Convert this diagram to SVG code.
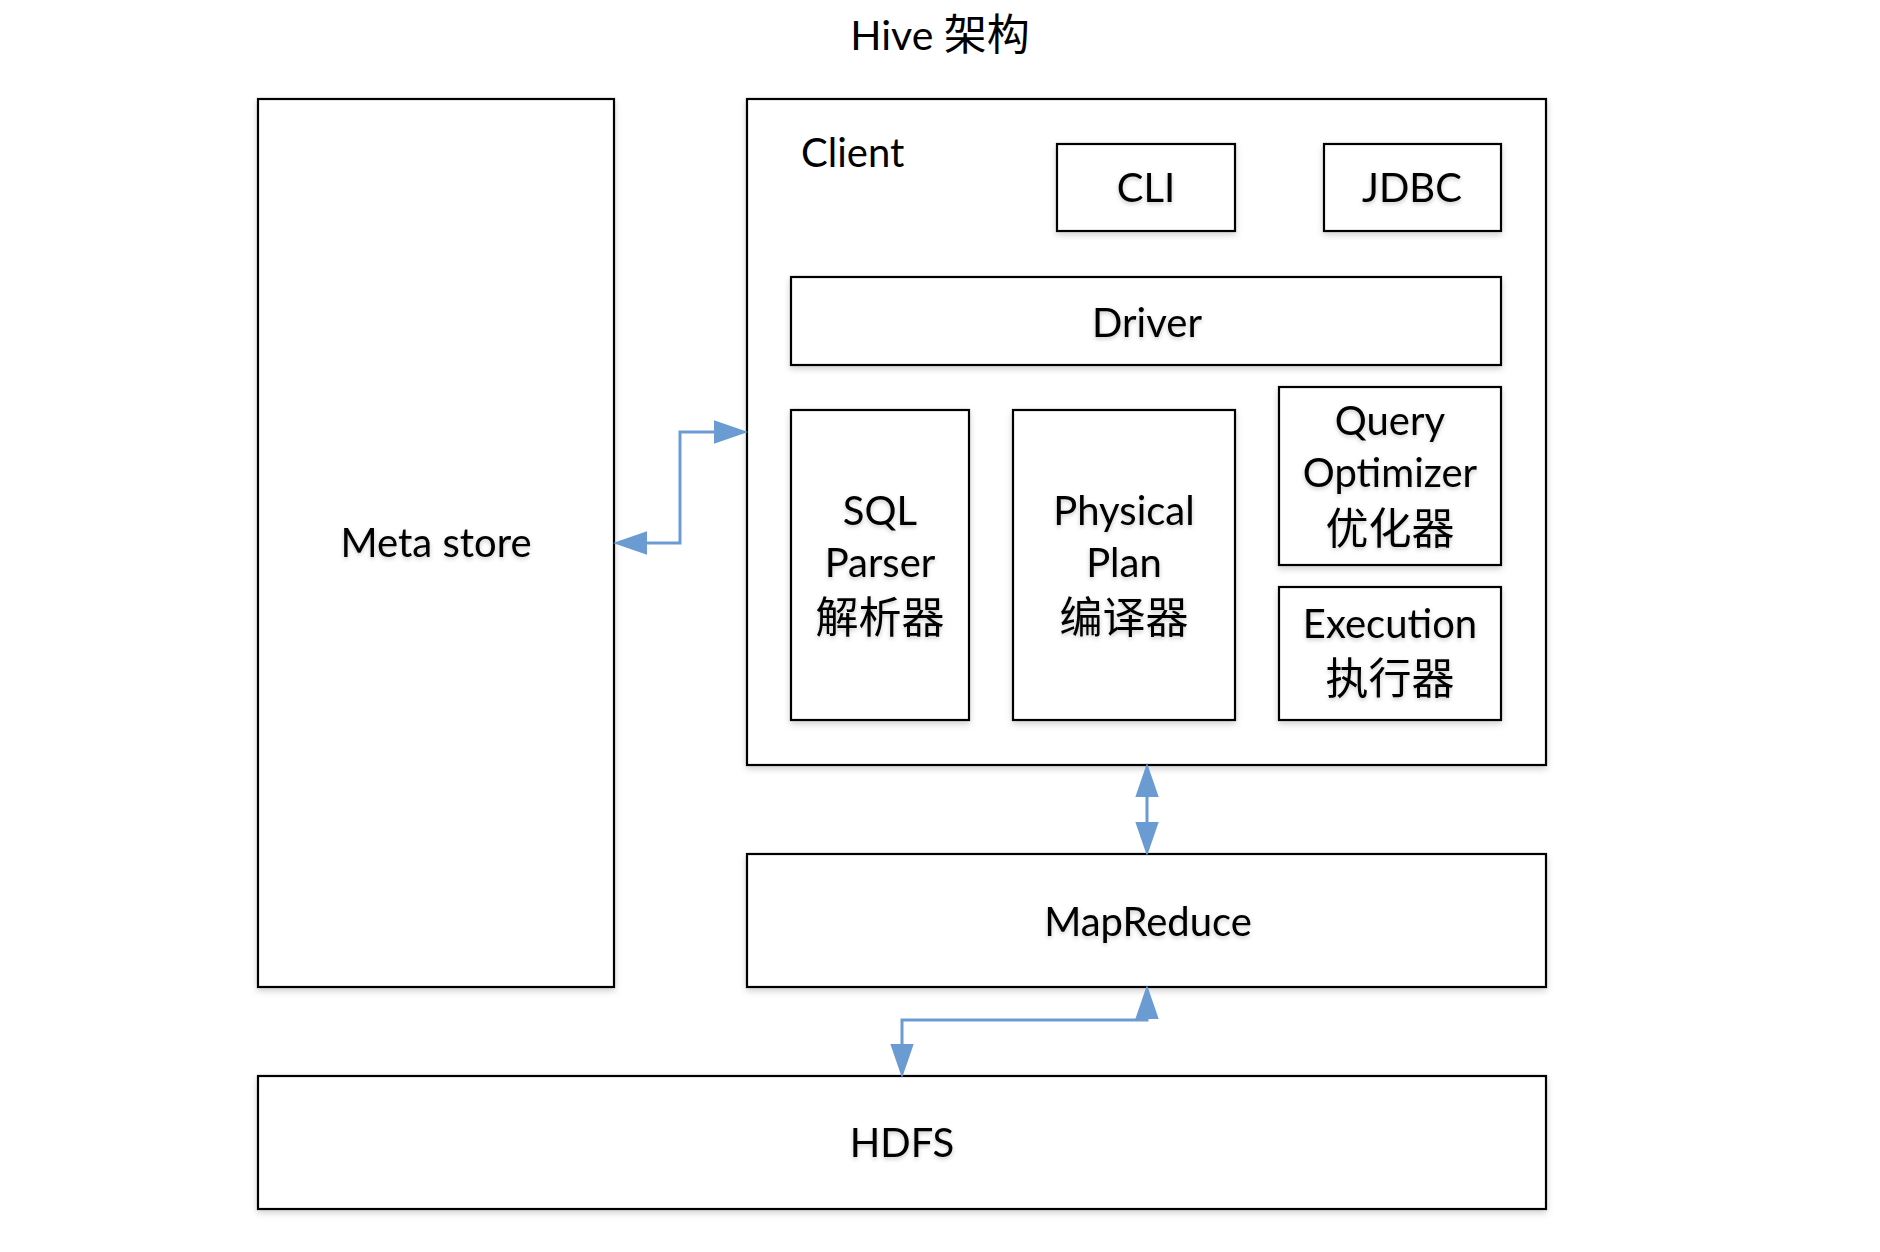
<svg xmlns="http://www.w3.org/2000/svg" width="1880" height="1252" viewBox="0 0 1880 1252">
<defs>
<style>
.box{fill:#fff;stroke:#000;stroke-width:2.2;filter:url(#sh)}
.t{font-family:Lato,"Noto Sans CJK SC",sans-serif;font-size:40px;fill:#000;text-anchor:middle;filter:url(#tsh)}
.cj{font-size:43px}
.conn{fill:none;stroke:#6A9BD3;stroke-width:3}
</style>
<filter id="sh" x="-5%" y="-5%" width="110%" height="115%">
<feDropShadow dx="0" dy="3" stdDeviation="3" flood-color="#000" flood-opacity="0.18"/>
</filter>
<filter id="tsh" x="-10%" y="-20%" width="120%" height="160%">
<feDropShadow dx="0" dy="2" stdDeviation="2" flood-color="#000" flood-opacity="0.22"/>
</filter>
<marker id="ah" markerUnits="userSpaceOnUse" markerWidth="34" markerHeight="24" refX="0" refY="11" viewBox="0 0 32 22" orient="auto-start-reverse">
<path d="M0,0 L32,11 L0,22 z" fill="#6A9BD3"/>
</marker>
</defs>
<rect width="1880" height="1252" fill="#fff"/>
<text class="t" x="940" y="50" style="filter:none;font-size:41px">Hive <tspan class="cj">架构</tspan></text>

<g id="metastore"><rect class="box" x="258" y="99" width="356" height="888"/><text class="t" x="436" y="557">Meta store</text></g>
<g id="client"><rect class="box" x="747" y="99" width="799" height="666"/><text class="t" x="801" y="167" style="text-anchor:start;filter:none">Client</text></g>
<g id="cli"><rect class="box" x="1057" y="144" width="178" height="87"/><text class="t" x="1146" y="202">CLI</text></g>
<g id="jdbc"><rect class="box" x="1324" y="144" width="177" height="87"/><text class="t" x="1412" y="202">JDBC</text></g>
<g id="driver"><rect class="box" x="791" y="277" width="710" height="88"/><text class="t" x="1147" y="337">Driver</text></g>
<g id="sqlparser"><rect class="box" x="791" y="410" width="178" height="310"/><text class="t" x="880" y="525">SQL</text><text class="t" x="880" y="577">Parser</text><text class="t cj" x="880" y="633">解析器</text></g>
<g id="physicalplan"><rect class="box" x="1013" y="410" width="222" height="310"/><text class="t" x="1124" y="525">Physical</text><text class="t" x="1124" y="577">Plan</text><text class="t cj" x="1124" y="633">编译器</text></g>
<g id="optimizer"><rect class="box" x="1279" y="387" width="222" height="178"/><text class="t" x="1390" y="435">Query</text><text class="t" x="1390" y="487">Optimizer</text><text class="t cj" x="1390" y="544">优化器</text></g>
<g id="execution"><rect class="box" x="1279" y="587" width="222" height="133"/><text class="t" x="1390" y="638">Execution</text><text class="t cj" x="1390" y="694">执行器</text></g>
<g id="mapreduce"><rect class="box" x="747" y="854" width="799" height="133"/><text class="t" x="1148" y="936">MapReduce</text></g>
<g id="hdfs"><rect class="box" x="258" y="1076" width="1288" height="133"/><text class="t" x="902" y="1157">HDFS</text></g>

<g id="connectors">
<path class="conn" d="M647,543 H680 V432 H714" marker-start="url(#ah)" marker-end="url(#ah)"/>
<path class="conn" d="M1147,797 V822" marker-start="url(#ah)" marker-end="url(#ah)"/>
<path class="conn" d="M1147,1019 V1020 H902 V1044" marker-start="url(#ah)" marker-end="url(#ah)"/>
</g>
</svg>
